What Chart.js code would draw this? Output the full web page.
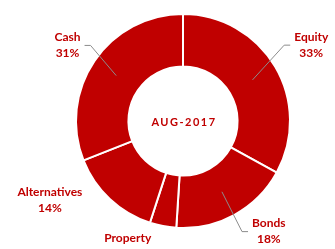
<!DOCTYPE html>
<html>
<head>
<meta charset="utf-8">
<script src="https://cdn.jsdelivr.net/npm/chart.js@4/dist/chart.umd.min.js"></script>
<style>
  html,body{margin:0;padding:0;background:#fff;}
  #wrap{width:335px;height:249px;position:relative;}
</style>
</head>
<body>
<div id="wrap"><canvas id="pie"></canvas></div>
<script>
// DATA
const categories=["Equity","Bonds","Property","Alternatives","Cash"];
const shares=[33,18,4,14,31];
const centerTitle="AUG-2017";

// label placement (angle nudge in deg, radius, leader on/off)
const labelAngleShift=[0,-9,13,16,-1];
const labelRadius=[149,140,137,155,138];
const showLeader=[true,true,false,false,true];

const RED="#C00000";
const FONT="bold 12px Lato, 'Open Sans', sans-serif";

// LABELS + LEADERS
const labelPlugin={
  id:"outLabels",
  afterDatasetsDraw(chart){
    const ctx=chart.ctx;
    const meta=chart.getDatasetMeta(0);
    ctx.save();
    ctx.font=FONT;
    ctx.textAlign="center";
    ctx.textBaseline="middle";
    meta.data.forEach((arc,i)=>{
      const p=arc.getProps(["x","y","startAngle","endAngle","innerRadius","outerRadius"],true);
      const mid=(p.startAngle+p.endAngle)/2+labelAngleShift[i]*Math.PI/180;
      const lx=p.x+Math.cos(mid)*labelRadius[i];
      const ly=p.y+Math.sin(mid)*labelRadius[i];
      const l1=categories[i], l2=shares[i]+"%";
      const w=Math.max(ctx.measureText(l1).width,ctx.measureText(l2).width);

      if(showLeader[i]){
        const c=arc.getCenterPoint();
        const side=lx>p.x?-1:1;
        const edge=lx+side*(w/2+4);
        ctx.strokeStyle="#8c8c8c";
        ctx.lineWidth=1;
        ctx.beginPath();
        ctx.moveTo(c.x,c.y);
        ctx.lineTo(edge+side*6,ly);
        ctx.lineTo(edge,ly);
        ctx.stroke();
      }
      ctx.fillStyle=RED;
      ctx.fillText(l1,lx,ly-8);
      ctx.fillText(l2,lx,ly+8);
    });

    // centre title
    ctx.font="bold 11px Lato, 'Open Sans', sans-serif";
    if("letterSpacing" in ctx) ctx.letterSpacing="1.5px";
    const a=meta.data[0];
    ctx.fillText(centerTitle,a.x+1,a.y+1);
    ctx.restore();
  }
};

document.addEventListener("DOMContentLoaded",()=>{
  new Chart(document.getElementById("pie"),{
    type:"doughnut",
    data:{
      labels:categories,
      datasets:[{
        data:shares,
        backgroundColor:RED,
        borderColor:"#fff",
        borderWidth:2
      }]
    },
    options:{
      responsive:true,
      maintainAspectRatio:false,
      animation:false,
      radius:107,
      cutout:"51%",
      layout:{padding:{left:77,right:46,top:15,bottom:22}},
      plugins:{legend:{display:false},tooltip:{enabled:false}}
    },
    plugins:[labelPlugin]
  });
});
</script>
</body>
</html>
